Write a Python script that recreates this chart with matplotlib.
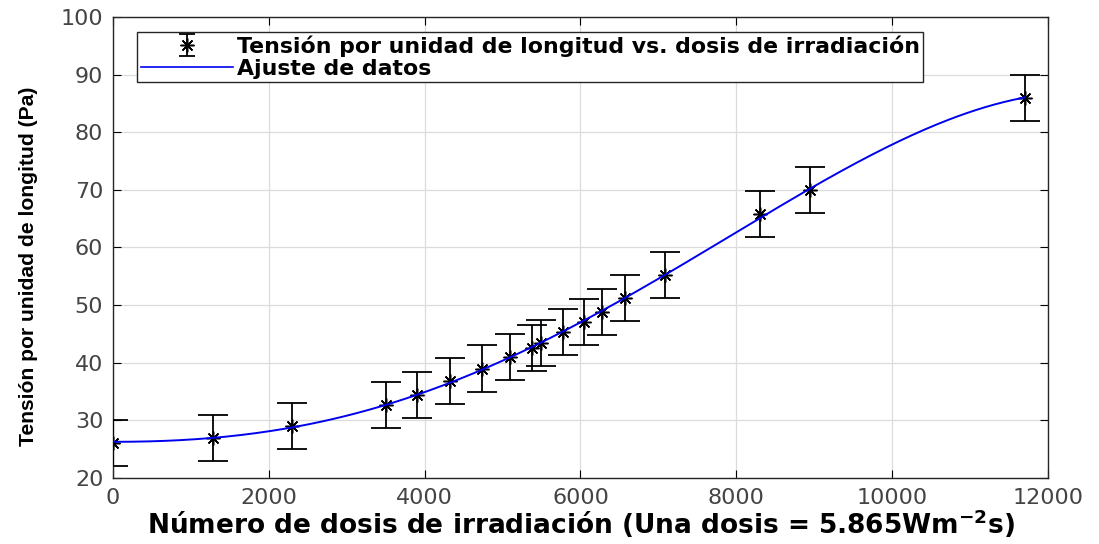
import matplotlib
matplotlib.use('Agg')
import matplotlib.pyplot as plt
import numpy as np

# dosis de irradiacion vs tension medida
dosis = [0, 1280, 2300, 3500, 3900, 4320, 4740, 5090, 5380, 5490,
         5770, 6050, 6270, 6570, 7090, 8310, 8950, 11700]
tension = [26.0, 27.0, 29.0, 32.7, 34.4, 36.9, 39.0, 41.0, 42.5, 43.5,
           45.3, 47.0, 48.8, 51.2, 55.2, 65.8, 70.0, 86.0]
error = [4.0] * len(dosis)

xticks = [0, 2000, 4000, 6000, 8000, 10000, 12000]
yticks = [20, 30, 40, 50, 60, 70, 80, 90, 100]

plt.rcParams['font.family'] = ['DejaVu Sans']

fig = plt.figure(figsize=(10.99, 5.44), dpi=100)
ax = fig.add_axes([0.1028, 0.1213, 0.8508, 0.8475])

# ajuste y = a + b*x^2 + c*x^3 + d*x^4 (pendiente nula en el origen)
xd = np.array(dosis, dtype=float) / 1000.0
A = np.column_stack([np.ones_like(xd), xd**2, xd**3, xd**4])
coef = np.linalg.lstsq(A, np.array(tension), rcond=None)[0]
xfit = np.linspace(0, max(dosis), 300)
xs = xfit / 1000.0
yfit = coef[0] + coef[1]*xs**2 + coef[2]*xs**3 + coef[3]*xs**4

ax.errorbar(dosis, tension, yerr=error, fmt='none', ecolor='black',
            elinewidth=1.3, capsize=11, capthick=1.3, zorder=3)
ax.plot(dosis, tension, linestyle='none', marker=(8, 2, 0), markersize=10,
        mec='black', mew=1.1, zorder=4)
ax.plot(xfit, yfit, color='#0000ee', linewidth=1.4, zorder=5)

# entradas de la leyenda
h1 = ax.errorbar([np.nan], [np.nan], yerr=[1], fmt='none', ecolor='black',
                 elinewidth=1.3, capsize=6, capthick=1.3)
h1m, = ax.plot([np.nan], [np.nan], linestyle='none', marker=(8, 2, 0),
               markersize=10, mec='black', mew=1.1)
h2, = ax.plot([np.nan], [np.nan], color='#0000ee', linewidth=1.2)
leg = ax.legend([(h1, h1m), h2],
                ['Tensión por unidad de longitud vs. dosis de irradiación',
                 'Ajuste de datos'],
                loc='upper left', bbox_to_anchor=(0.026, 0.968),
                prop={'weight': 'bold', 'size': 15.8}, fancybox=False,
                edgecolor='#262626', framealpha=1, borderpad=0.15,
                labelspacing=0.12, handlelength=4.2, handletextpad=0.2,
                borderaxespad=0)
leg.get_frame().set_linewidth(1.0)

ax.set_xlim(0, 12000)
ax.set_ylim(20, 100)
ax.set_xticks(xticks)
ax.set_yticks(yticks)
ax.grid(True, color='#dcdcdc', linewidth=0.9)
ax.set_axisbelow(True)
ax.tick_params(direction='in', top=True, right=True, length=6,
               labelsize=16, labelcolor='#444444', pad=7)
for s in ax.spines.values():
    s.set_color('#262626')
    s.set_linewidth(1.0)

ax.set_xlabel('Número de dosis de irradiación (Una dosis = 5.865Wm$^{\\mathbf{-2}}$s)',
              fontsize=19, fontweight='bold', labelpad=0)
ax.set_ylabel('Tensión por unidad de longitud (Pa)', fontsize=15.2,
              fontweight='bold', family='Liberation Sans')
ax.yaxis.set_label_coords(-0.08, 0.46)

fig.savefig('out.png', dpi=100)
